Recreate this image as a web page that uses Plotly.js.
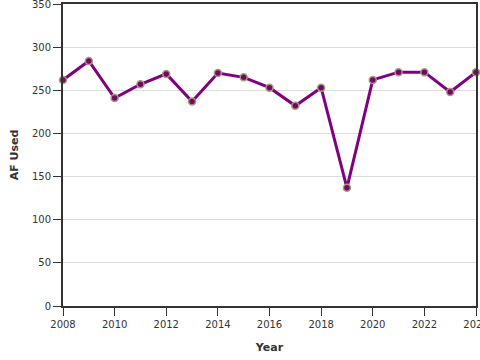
<!DOCTYPE html>
<html>
<head>
<meta charset="utf-8">
<script src="https://cdn.plot.ly/plotly-3.0.1.min.js"></script>
<style>html,body{margin:0;padding:0;background:#fff;}#chart{width:480px;height:360px;}</style>
</head>
<body>
<div id="chart"></div>
<script>
const years = [2008, 2009, 2010, 2011, 2012, 2013, 2014, 2015, 2016, 2017, 2018, 2019, 2020, 2021, 2022, 2023, 2024];
const afUsed = [262, 284, 241, 257, 269, 237, 270, 265, 253, 232, 253, 137, 262, 271, 271, 248, 271];
const xTicks = [2008, 2010, 2012, 2014, 2016, 2018, 2020, 2022, 2024];
const xTickText = ['2008', '2010', '2012', '2014', '2016', '2018', '2020', '2022', '2024'];
const yTicks = [0, 50, 100, 150, 200, 250, 300, 350];

const trace = {
  x: years,
  y: afUsed,
  type: 'scatter',
  mode: 'lines+markers',
  line: {color: '#800080', width: 3},
  marker: {color: '#700a64', size: 7, line: {color: '#a89a78', width: 1.5}},
  hoverinfo: 'x+y',
  cliponaxis: false
};

const font = {family: 'DejaVu Sans, Verdana, sans-serif', size: 10, color: '#333'};

const layout = {
  width: 480, height: 360,
  margin: {l: 63, r: 4, t: 4, b: 54},
  paper_bgcolor: '#fff', plot_bgcolor: '#fff',
  showlegend: false,
  font: font,
  xaxis: {
    range: [2008, 2024],
    tickmode: 'array',
    tickvals: xTicks,
    ticktext: xTickText,
    ticklabeloverflow: 'allow',
    showgrid: false, zeroline: false,
    showline: true, linecolor: '#333', linewidth: 2, mirror: true,
    ticks: 'outside', ticklen: 8, tickcolor: '#333',
    tickfont: font,
    title: {text: 'Year', font: {family: 'DejaVu Sans, Verdana, sans-serif', size: 11, color: '#333', weight: 'bold'}, standoff: 14}
  },
  yaxis: {
    range: [0, 350],
    tickmode: 'array',
    tickvals: yTicks,
    ticklabeloverflow: 'allow',
    showgrid: true, gridcolor: '#ddd', gridwidth: 1,
    zeroline: false,
    showline: true, linecolor: '#333', linewidth: 2, mirror: true,
    ticks: 'outside', ticklen: 8, tickcolor: '#333',
    tickfont: font,
    title: {text: 'AF Used', font: {family: 'DejaVu Sans, Verdana, sans-serif', size: 11, color: '#333', weight: 'bold'}, standoff: 11}
  }
};

Plotly.newPlot('chart', [trace], layout, {displayModeBar: false, staticPlot: true});
</script>
</body>
</html>
